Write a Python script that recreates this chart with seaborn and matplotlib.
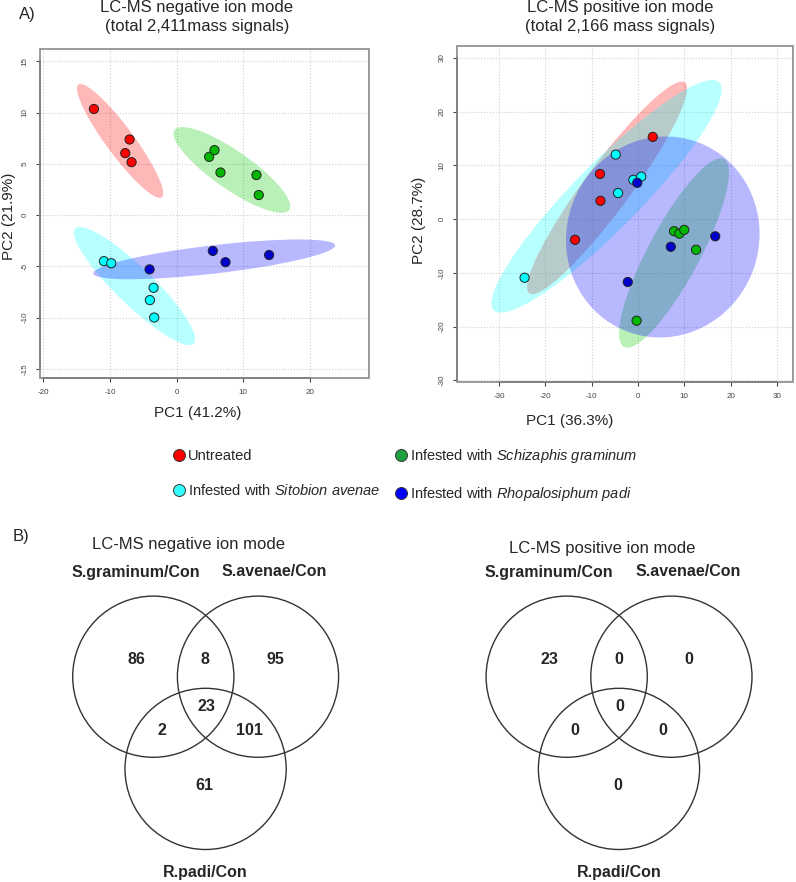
import numpy as np
import pandas as pd
import seaborn as sns
import matplotlib.pyplot as plt
from matplotlib.patches import Ellipse, Circle, Rectangle
from matplotlib.lines import Line2D

W, H = 796, 882

# ---- data ----
GROUPS = ["Untreated", "Schizaphis graminum", "Sitobion avenae", "Rhopalosiphum padi"]

neg_group = ["Untreated"] * 4 + ["Schizaphis graminum"] * 5 + ["Sitobion avenae"] * 5 + ["Rhopalosiphum padi"] * 4
neg_pc1 = [-12.4, -7.05, -7.7, -6.75, 4.9, 5.7, 6.6, 12.0, 12.35, -10.9, -9.8, -3.45, -4.0, -3.35, -4.05, 5.45, 7.35, 13.9]
neg_pc2 = [10.35, 7.37, 6.04, 5.16, 5.68, 6.33, 4.15, 3.9, 1.95, -4.5, -4.7, -7.1, -8.3, -10.0, -5.3, -3.5, -4.6, -3.9]

pos_group = ["Untreated"] * 4 + ["Schizaphis graminum"] * 5 + ["Sitobion avenae"] * 5 + ["Rhopalosiphum padi"] * 4
pos_pc1 = [3.2, -8.2, -8.1, -13.6, 7.8, 8.95, 10.0, 12.55, -0.3, -4.8, -1.0, 0.7, -4.3, -24.5, -0.15, 7.1, 16.7, -2.2]
pos_pc2 = [15.3, 8.4, 3.4, -3.85, -2.25, -2.7, -2.0, -5.7, -18.9, 12.0, 7.3, 7.9, 4.85, -10.9, 6.75, -5.15, -3.2, -11.7]

venn_sets = ["S.graminum/Con", "S.avenae/Con", "R.padi/Con"]
# regions: A only, A&B, B only, A&B&C, A&C, B&C, C only
neg_counts = [86, 8, 95, 23, 2, 101, 61]
pos_counts = [23, 0, 0, 0, 0, 0, 0]

point_colors = {"Untreated": "#FF0000", "Schizaphis graminum": "#00B800",
                "Sitobion avenae": "#00FFFF", "Rhopalosiphum padi": "#0000CD"}
fill_colors = {"Untreated": "#FF0000", "Schizaphis graminum": "#00CC00",
               "Sitobion avenae": "#00FFFF", "Rhopalosiphum padi": "#0000FF"}
legend_colors = {"Untreated": "#FF0000", "Schizaphis graminum": "#1FA040",
                 "Sitobion avenae": "#33FFFF", "Rhopalosiphum padi": "#0000FF"}

sns.set_style("white")
plt.rcParams['font.family'] = ['Liberation Sans', 'DejaVu Sans']
plt.rcParams['mathtext.fontset'] = 'custom'
plt.rcParams['mathtext.rm'] = 'Liberation Sans'
plt.rcParams['mathtext.it'] = 'Liberation Sans:italic'
plt.rcParams['axes.unicode_minus'] = False


def px_rect(x0, y0, x1, y1):
    return [x0 / W, 1 - y1 / H, (x1 - x0) / W, (y1 - y0) / H]


def conf_ellipse(ax, x, y, color):
    x = np.asarray(x)
    y = np.asarray(y)
    cov = np.cov(x, y)
    vals, vecs = np.linalg.eigh(cov)
    order = vals.argsort()[::-1]
    vals, vecs = vals[order], vecs[:, order]
    angle = np.degrees(np.arctan2(vecs[1, 0], vecs[0, 0]))
    k = np.sqrt(5.991)
    e = Ellipse((x.mean(), y.mean()), 2 * k * np.sqrt(vals[0]), 2 * k * np.sqrt(vals[1]),
                angle=angle, facecolor=color, edgecolor="none", alpha=0.28, zorder=1)
    ax.add_patch(e)


def pca_panel(ax, groups, pc1, pc2, xlim, ylim, xticks, yticks, xlabel, ylabel, xlab_pos, ylab_pos):
    df = pd.DataFrame({"PC1": pc1, "PC2": pc2, "group": groups})
    for g in GROUPS:
        sub = df[df.group == g]
        conf_ellipse(ax, sub.PC1, sub.PC2, fill_colors[g])
    sns.scatterplot(data=df, x="PC1", y="PC2", hue="group", palette=point_colors,
                    s=44, edgecolor="#222222", linewidth=0.7, legend=False, ax=ax, zorder=3)
    ax.set_xlim(*xlim)
    ax.set_ylim(*ylim)
    ax.set_xticks(xticks)
    ax.set_yticks(yticks)
    ax.grid(True, linestyle=":", color="#cfcfcf", linewidth=0.8)
    ax.tick_params(axis="both", direction="out", length=3, width=0.8, color="#444444",
                   labelsize=5.8, labelcolor="#444444", pad=5, bottom=True, left=True)
    ax.tick_params(axis="y", labelrotation=90)
    for lbl in ax.get_yticklabels():
        lbl.set_va("center")
    for s in ["top", "right"]:
        ax.spines[s].set_visible(False)
    for s in ["left", "bottom"]:
        ax.spines[s].set_color("#444444")
        ax.spines[s].set_linewidth(1.2)
    ax.spines["bottom"].set_bounds(xticks[0], xticks[-1])
    ax.spines["left"].set_bounds(yticks[0], yticks[-1])
    ax.add_patch(Rectangle((0, 0), 1, 1, transform=ax.transAxes, fill=False,
                           edgecolor="#8a8a8a", linewidth=1.2, clip_on=False, zorder=4))
    ax.set_xlabel(xlabel, fontsize=11)
    ax.set_ylabel(ylabel, fontsize=11)
    ax.xaxis.set_label_coords(*xlab_pos)
    ax.yaxis.set_label_coords(*ylab_pos)


fig = plt.figure(figsize=(W / 100, H / 100), dpi=100)

# overlay in pixel coordinates for text and venn circles
ov = fig.add_axes([0, 0, 1, 1])
ov.set_xlim(0, W)
ov.set_ylim(H, 0)
ov.axis("off")

ax1 = fig.add_axes(px_rect(40, 49, 369, 378))
pca_panel(ax1, neg_group, neg_pc1, neg_pc2, (-20.5, 28.9), (-15.9, 16.2),
          [-20, -10, 0, 10, 20], [-15, -10, -5, 0, 5, 10, 15],
          "PC1 (41.2%)", "PC2 (21.9%)", (0.48, -0.085), (-0.073, 0.49))

ax2 = fig.add_axes(px_rect(457, 46, 793, 382))
pca_panel(ax2, pos_group, pos_pc1, pos_pc2, (-39.1, 33.5), (-30.3, 32.2),
          [-30, -20, -10, 0, 10, 20, 30], [-30, -20, -10, 0, 10, 20, 30],
          "PC1 (36.3%)", "PC2 (28.7%)", (0.336, -0.095), (-0.092, 0.48))

ov.text(27, 14, "A)", fontsize=12, ha="center", va="center")
ov.text(197, 17, "LC-MS negative ion mode\n(total 2,411mass signals)", fontsize=12,
        ha="center", va="center", linespacing=1.35)
ov.text(620, 17, "LC-MS positive ion mode\n(total 2,166 mass signals)", fontsize=12,
        ha="center", va="center", linespacing=1.35)

# legend
handles = []
labels = []
legend_text = {"Untreated": "Untreated",
               "Schizaphis graminum": "Infested with $\\it{Schizaphis\\ graminum}$",
               "Sitobion avenae": "Infested with $\\it{Sitobion\\ avenae}$",
               "Rhopalosiphum padi": "Infested with $\\it{Rhopalosiphum\\ padi}$"}
for g in ["Untreated", "Sitobion avenae", "Schizaphis graminum", "Rhopalosiphum padi"]:
    handles.append(Line2D([], [], linestyle="none", marker="o", markersize=8.6,
                          markerfacecolor=legend_colors[g], markeredgecolor="#333333",
                          markeredgewidth=0.7))
    labels.append(legend_text[g])
fig.legend(handles, labels, ncol=2, loc="upper left", bbox_to_anchor=(172 / W, 1 - 447 / H),
           frameon=False, fontsize=10.5, handlelength=0.9, handletextpad=0.2,
           columnspacing=0.95, labelspacing=1.4, borderaxespad=0, borderpad=0)

# venn diagrams
ov.text(21, 536, "B)", fontsize=12, ha="center", va="center")
R = 80.6
circle_off = [(0, 0), (104.7, 0), (52.3, 92.2)]
region_off = [(-17.3, -17.4), (52.0, -17.4), (121.7, -17.4), (52.7, 30.0),
              (8.4, 54.0), (96.0, 54.0), (51.4, 108.3)]


def venn(cx, cy, counts, title, title_y):
    for dx, dy in circle_off:
        ov.add_patch(Circle((cx + dx, cy + dy), R, fill=False, edgecolor="#333333", linewidth=1.0))
    for (dx, dy), n in zip(region_off, counts):
        ov.text(cx + dx, cy + dy, str(n), fontsize=11.5, fontweight="bold", ha="center", va="center")
    ov.text(cx + 35, title_y, title, fontsize=12, ha="center", va="center")
    ov.text(cx - 17.8, 572, venn_sets[0], fontsize=11.5, fontweight="bold", ha="center", va="center")
    ov.text(cx + 121.4, 572, venn_sets[1], fontsize=11.5, fontweight="bold", ha="center", va="center")
    ov.text(cx + 52.4, 872, venn_sets[2], fontsize=11.5, fontweight="bold", ha="center", va="center")


venn(153.3, 676.7, neg_counts, "LC-MS negative ion mode", 545)
venn(566.7, 676.7, pos_counts, "LC-MS positive ion mode", 548)

fig.savefig("out.png", dpi=100)
